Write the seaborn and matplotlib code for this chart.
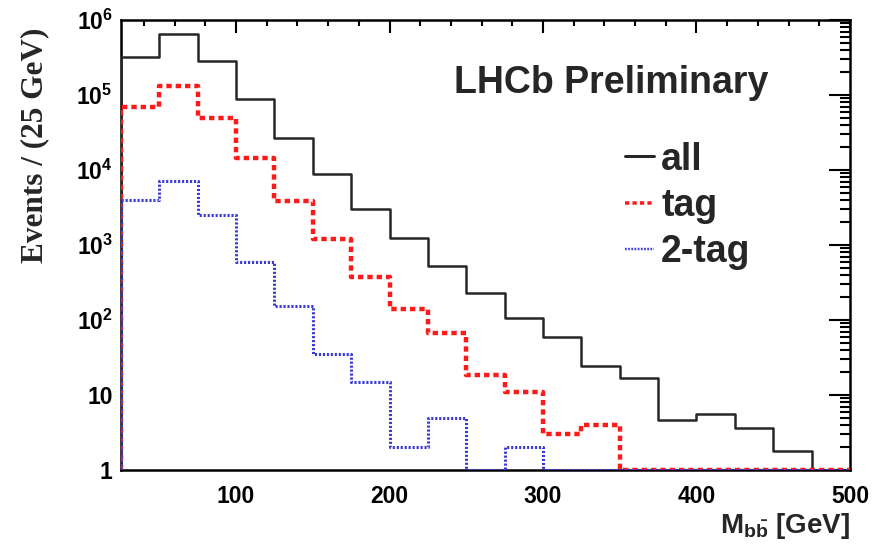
import matplotlib
matplotlib.use("Agg")
import numpy as np
import pandas as pd
import seaborn as sns
import matplotlib.pyplot as plt
from matplotlib.ticker import MultipleLocator, FixedLocator, FixedFormatter, LogLocator, NullFormatter
from matplotlib.lines import Line2D

# ---- data ----
bin_edges = [25, 50, 75, 100, 125, 150, 175, 200, 225, 250, 275, 300, 325, 350,
             375, 400, 425, 450, 475, 500]
all_counts = [3.2e5, 6.5e5, 2.8e5, 8.9e4, 2.7e4, 8.9e3, 3.0e3, 1.24e3, 525, 230,
              105, 59, 24, 17, 4.6, 5.6, 3.6, 1.8, 1]
tag_counts = [6.9e4, 1.3e5, 5.0e4, 1.45e4, 3.9e3, 1.2e3, 375, 140, 67, 18.5,
              11, 3, 4, 1, 1, 1, 1, 1, 1]
twotag_counts = [4.0e3, 7.1e3, 2.5e3, 590, 153, 35, 15, 2, 5, 1,
                 2, 1, 1, 1, 1, 1, 1, 1, 1]
series_names = ["all", "tag", "2-tag"]
y_tick_values = [1, 10, 1e2, 1e3, 1e4, 1e5, 1e6]
y_tick_labels = ["1", "10", r"$\mathbf{10^{2}}$", r"$\mathbf{10^{3}}$",
                 r"$\mathbf{10^{4}}$", r"$\mathbf{10^{5}}$", r"$\mathbf{10^{6}}$"]
x_tick_values = [100, 200, 300, 400, 500]

sns.set_style("white")
plt.rcParams["font.family"] = ["Liberation Sans", "DejaVu Sans"]
plt.rcParams["font.weight"] = "bold"
plt.rcParams["mathtext.fontset"] = "custom"
plt.rcParams["mathtext.rm"] = "Liberation Sans:bold"
plt.rcParams["mathtext.bf"] = "Liberation Sans:bold"
plt.rcParams["mathtext.it"] = "Liberation Sans:bold"

fig = plt.figure(figsize=(8.73, 5.48), dpi=100)
ax = fig.add_axes([0.1386, 0.1423, 0.835, 0.8212])

def step_frame(counts, name):
    xs = [bin_edges[0]]
    ys = [1.0]
    for i, c in enumerate(counts):
        xs += [bin_edges[i], bin_edges[i + 1]]
        ys += [c, c]
    xs.append(bin_edges[-1])
    ys.append(1.0)
    return pd.DataFrame({"x": xs, "y": ys, "series": name, "order": range(len(xs))})

styles = {
    "all": dict(color="#262626", lw=1.8, ls="-"),
    "tag": dict(color="#ff1a1a", lw=3.2, ls=(0, (1.2, 0.9))),
    "2-tag": dict(color="#3a3ad6", lw=2.2, ls=(0, (0.7, 0.6))),
}
zord = {"all": 3, "tag": 4, "2-tag": 5}
for name, counts in zip(series_names, [all_counts, tag_counts, twotag_counts]):
    df = step_frame(counts, name)
    st = styles[name]
    sns.lineplot(data=df, x="x", y="y", estimator=None, sort=False, ax=ax,
                 color=st["color"], linewidth=st["lw"], linestyle=st["ls"],
                 zorder=zord[name], legend=False)

ax.set_yscale("log")
ax.set_xlim(25, 500)
ax.set_ylim(1, 1e6)

ax.xaxis.set_major_locator(FixedLocator(x_tick_values))
ax.xaxis.set_minor_locator(MultipleLocator(20))
ax.yaxis.set_major_locator(FixedLocator(y_tick_values))
ax.yaxis.set_major_formatter(FixedFormatter(y_tick_labels))
ax.yaxis.set_minor_locator(LogLocator(base=10, subs=np.arange(2, 10), numticks=20))
ax.yaxis.set_minor_formatter(NullFormatter())

ax.tick_params(axis="both", which="both", direction="in", top=True, right=True,
               width=1.5, colors="black")
ax.tick_params(axis="x", which="major", length=9, labelsize=16.5, pad=11)
ax.tick_params(axis="x", which="minor", length=4.5)
ax.tick_params(axis="y", which="major", length=15, labelsize=16.5, pad=6)
ax.tick_params(axis="y", which="minor", length=7.5)
for lab in ax.get_xticklabels() + ax.get_yticklabels():
    lab.set_fontweight("bold")
for sp in ax.spines.values():
    sp.set_visible(True)
    sp.set_linewidth(1.8)
    sp.set_color("black")

ax.set_xlabel(r"$\mathbf{M_{b\bar{b}}}$ [GeV]", fontsize=20, fontweight="bold",
              loc="right", labelpad=2)
ax.set_ylabel("Events / (25 GeV)", fontsize=22.5, fontweight="bold",
              family=["Liberation Serif", "DejaVu Serif"])
ax.yaxis.set_label_coords(-0.098, 0.722)

ax.text(0.672, 0.86, "LHCb Preliminary", transform=ax.transAxes, fontsize=27,
        fontweight="bold", ha="center", va="center")

handles = [Line2D([], [], color=styles[n]["color"],
                  linewidth=styles[n]["lw"] * (0.8 if n != "all" else 1.2),
                  linestyle=styles[n]["ls"]) for n in series_names]
leg = ax.legend(handles, series_names, loc="upper left", bbox_to_anchor=(0.692, 0.73),
                frameon=False, handlelength=0.75, handletextpad=0.2,
                labelspacing=0.27, borderpad=0, borderaxespad=0,
                prop={"weight": "bold", "size": 27})

fig.savefig("out.png", dpi=100)
